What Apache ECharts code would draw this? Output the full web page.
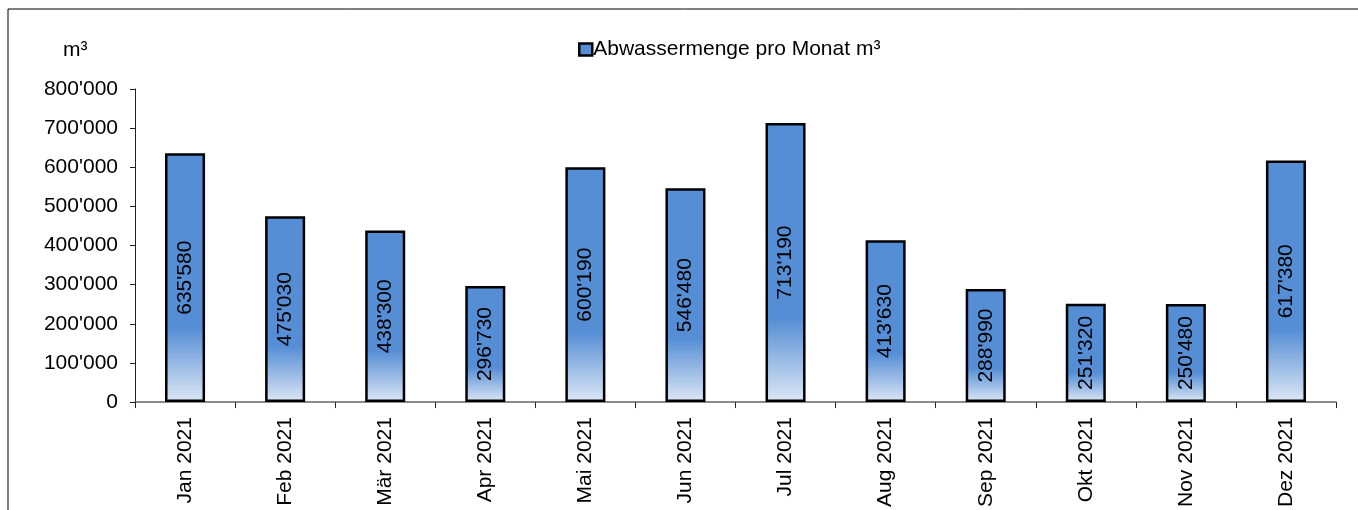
<!DOCTYPE html>
<html><head><meta charset="utf-8">
<script src="https://cdn.jsdelivr.net/npm/echarts@6/dist/echarts.min.js"></script>
<style>html,body{margin:0;padding:0;background:#fff}#c{width:1358px;height:510px}</style>
</head><body><div id="c"></div>
<script>
const categories = ['Jan 2021','Feb 2021','Mär 2021','Apr 2021','Mai 2021','Jun 2021','Jul 2021','Aug 2021','Sep 2021','Okt 2021','Nov 2021','Dez 2021'];
const values = [635580,475030,438300,296730,600190,546480,713190,413630,288990,251320,250480,617380];
const seriesName = 'Abwassermenge pro Monat m³';
const unitLabel = 'm³';

function fmt(v){ return String(v).replace(/\B(?=(\d{3})+(?!\d))/g, "'"); }
const FONT = '"Liberation Sans", Arial, sans-serif';
const chart = echarts.init(document.getElementById('c'));
chart.setOption({
  animation:false,
  textStyle:{fontFamily:FONT},
  graphic:[{type:'rect',shape:{x:8,y:9,width:1400,height:600},style:{fill:'none',stroke:'#000',lineWidth:1},silent:true}],
  title:{text:unitLabel,left:58,top:35,textStyle:{fontFamily:FONT,fontSize:21,fontWeight:'normal',color:'#000'}},
  legend:{left:573,top:34,itemWidth:13,itemHeight:12,itemGap:4,icon:'rect',
    textStyle:{fontFamily:FONT,fontSize:21,color:'#000',padding:[0,0,0,-4]},
    data:[{name:seriesName,itemStyle:{color:'#558ED5',borderColor:'#000',borderWidth:2.5}}]},
  grid:{left:135,right:22,top:89,bottom:105},
  xAxis:{type:'category',data:categories,
    axisLine:{lineStyle:{color:'#666',width:1.5}},
    axisTick:{show:true,length:6,alignWithLabel:false,lineStyle:{color:'#222'}},
    axisLabel:{rotate:90,fontSize:21,color:'#000',margin:15,fontFamily:FONT}},
  yAxis:{type:'value',min:0,max:800000,interval:100000,
    axisLine:{show:true,lineStyle:{color:'#222',width:1}},
    axisTick:{show:true,length:5,lineStyle:{color:'#222'}},
    splitLine:{show:false},
    axisLabel:{fontSize:21,color:'#000',margin:17,fontFamily:FONT,formatter:fmt}},
  series:[{name:seriesName,type:'bar',data:values,barWidth:'40%',
    itemStyle:{borderColor:'#000',borderWidth:2.5,
      color:new echarts.graphic.LinearGradient(0,0,0,1,[{offset:0,color:'#558ED5'},{offset:0.7,color:'#558ED5'},{offset:1,color:'#DDE7F5'}])},
    label:{show:true,position:'inside',rotate:90,fontSize:21,color:'#000',fontFamily:FONT,
      formatter:p=>fmt(p.value)}}]
});
</script></body></html>
